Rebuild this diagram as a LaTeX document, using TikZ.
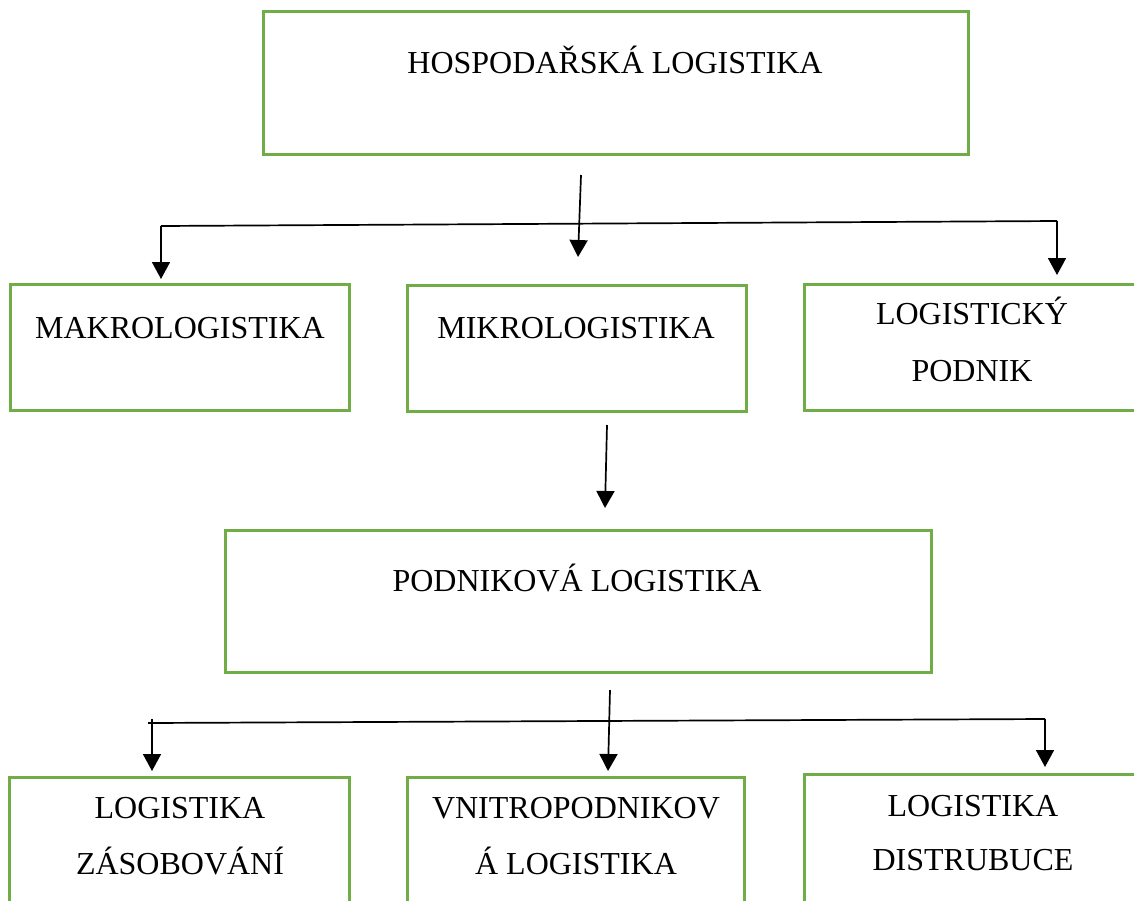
\documentclass[tikz,border=0pt]{standalone}
\usepackage{fontspec}
\setmainfont{Liberation Serif}
\usetikzlibrary{arrows.meta}
\definecolor{boxgreen}{HTML}{70AD47}
\tikzset{
  box/.style={draw=boxgreen, line width=3pt},
  lbl/.style={anchor=base, inner sep=0pt, font=\fontsize{32}{38}\selectfont},
  conn/.style={line width=1.7pt, black},
  arr/.style={conn, -{Triangle[width=18pt,length=17pt]}},
}
\begin{document}
\begin{tikzpicture}[x=1pt,y=-1pt]
\useasboundingbox (0,0) rectangle (1134,900);
% boxes
\draw[box] (263,11) rectangle (968,154);
\draw[box] (10,284) rectangle (349,410);
\draw[box] (407,285) rectangle (746,411);
\draw[box] (1140,284) -- (804,284) -- (804,410) -- (1140,410);
\draw[box] (225,530) rectangle (931,672);
\draw[box] (9,910) -- (9,777) -- (349,777) -- (349,910);
\draw[box] (407,910) -- (407,777) -- (744,777) -- (744,910);
\draw[box] (1140,774) -- (804,774) -- (804,910);
% labels
\node[lbl] (hl) at (615,73) {HOSPODAŘSKÁ LOGISTIKA};
\node[lbl] (ma) at (180,338) {MAKROLOGISTIKA};
\node[lbl] (mi) at (576,338) {MIKROLOGISTIKA};
\node[lbl] (lp1) at (972,324) {LOGISTICKÝ};
\node[lbl] (lp2) at (972,381) {PODNIK};
\node[lbl] (pl) at (577,591) {PODNIKOVÁ LOGISTIKA};
\node[lbl] (lz1) at (180,818) {LOGISTIKA};
\node[lbl] (lz2) at (180,874) {ZÁSOBOVÁNÍ};
\node[lbl] (vl1) at (576,818) {VNITROPODNIKOV};
\node[lbl] (vl2) at (576,874) {Á LOGISTIKA};
\node[lbl] (ld1) at (973,816) {LOGISTIKA};
\node[lbl] (ld2) at (973,870) {DISTRUBUCE};
% connector coordinates
\coordinate (t0) at (581,175);
\coordinate (t1) at (578,257);
\coordinate (hL) at (161,226);
\coordinate (hR) at (1057,221);
\coordinate (aL) at (161,279);
\coordinate (aR) at (1057,275);
\coordinate (m0) at (607,425);
\coordinate (m1) at (605,508);
\coordinate (b0) at (610,690);
\coordinate (b1) at (608,771);
\coordinate (gL) at (148,723);
\coordinate (gR) at (1045,719);
\coordinate (gLt) at (152,719);
\coordinate (cL) at (152,771);
\coordinate (cR) at (1045,767);
% connectors
\draw[conn] (hL) -- (hR);
\draw[arr] (t0) -- (t1);
\draw[arr] (hL) -- (aL);
\draw[arr] (hR) -- (aR);
\draw[arr] (m0) -- (m1);
\draw[conn] (gL) -- (gR);
\draw[arr] (gLt) -- (cL);
\draw[arr] (gR) -- (cR);
\draw[arr] (b0) -- (b1);
\end{tikzpicture}
\end{document}
